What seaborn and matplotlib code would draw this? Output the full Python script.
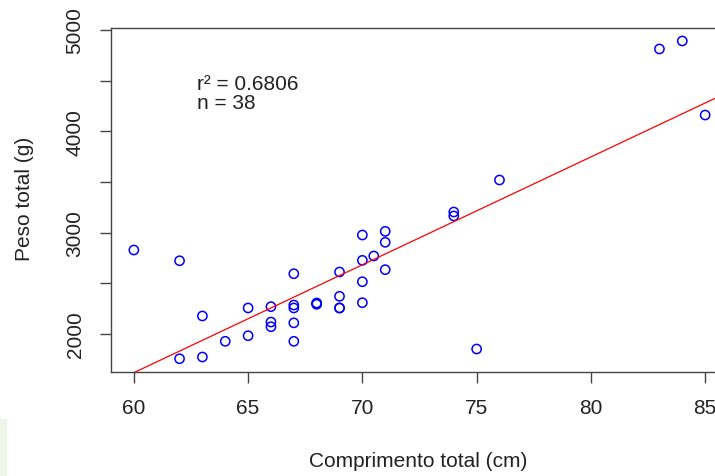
import matplotlib
matplotlib.use("Agg")
import matplotlib.pyplot as plt
import seaborn as sns
import pandas as pd
from matplotlib.patches import Rectangle

# values
comprimento = [60, 62, 62, 63, 63, 64, 65, 65, 66, 66, 66,
               67, 67, 67, 67, 67, 68, 68, 68, 69, 69, 69,
               70, 70, 70, 70, 70.5, 71, 71, 71, 74, 74, 75, 76,
               83, 84, 85, 69]
peso = [2829, 2723, 1756, 2178, 1773, 1928, 2257, 1983, 2270, 2118, 2072,
        2595, 2286, 2257, 2110, 1928, 2306, 2293, 2300, 2612, 2372, 2257,
        2977, 2727, 2516, 2309, 2770, 3013, 2905, 2635, 3204, 3165, 1852, 3520,
        4813, 4892, 4161, 2257]
r2_text = "r² = 0.6806"
n_text = "n = 38"
x_ticks = [60, 65, 70, 75, 80, 85]
y_ticks = [2000, 2500, 3000, 3500, 4000, 4500, 5000]
y_ticklabels = ["2000", "", "3000", "", "4000", "", "5000"]

df = pd.DataFrame({"comprimento": comprimento, "peso": peso})

sns.set_style("ticks")
plt.rcParams["font.family"] = ["Liberation Sans", "DejaVu Sans"]

fig = plt.figure(figsize=(7.15, 4.77), dpi=100)
# faint green artefact at the bottom-left edge
fig.patches.append(Rectangle((0, 0), 0.009, 0.12, transform=fig.transFigure,
                             color="#eef6ea", zorder=0))

# right spine falls outside the picture, like in the cropped reference
ax = fig.add_axes([111 / 715, 1 - 372.7 / 477, 617 / 715, 343.7 / 477])
ax.set_xlim(59, 86)
ax.set_ylim(1628, 5020)

sns.scatterplot(data=df, x="comprimento", y="peso", ax=ax, marker="o",
                s=44, facecolor="none", edgecolor="#0000ff", linewidth=1.1)
sns.regplot(data=df, x="comprimento", y="peso", ax=ax, scatter=False,
            ci=None, truncate=False, color="#ff0000", line_kws={"linewidth": 0.9})
ax.set_xlim(59, 86)
ax.set_ylim(1628, 5020)

ax.text(62.75, 4477, r2_text, fontsize=15, va="center", ha="left", color="#222222")
ax.text(62.75, 4282, n_text, fontsize=15, va="center", ha="left", color="#222222")

ax.set_xticks(x_ticks)
ax.set_xticklabels([str(v) for v in x_ticks])
ax.set_yticks(y_ticks)
ax.set_yticklabels(y_ticklabels, rotation=90, va="center")
ax.tick_params(axis="both", length=8, width=1, color="#444444",
               labelsize=15, pad=11, labelcolor="#222222")

for side in ["left", "bottom", "top", "right"]:
    ax.spines[side].set_color("#444444")
    ax.spines[side].set_linewidth(1.0)

ax.set_xlabel("Comprimento total (cm)", fontsize=15, color="#222222")
ax.set_ylabel("Peso total (g)", fontsize=15, color="#222222")
ax.xaxis.set_label_coords((418 - 111) / 617, -0.232)
ax.yaxis.set_label_coords(-0.124, 0.505)

fig.savefig("out.png", dpi=100)
